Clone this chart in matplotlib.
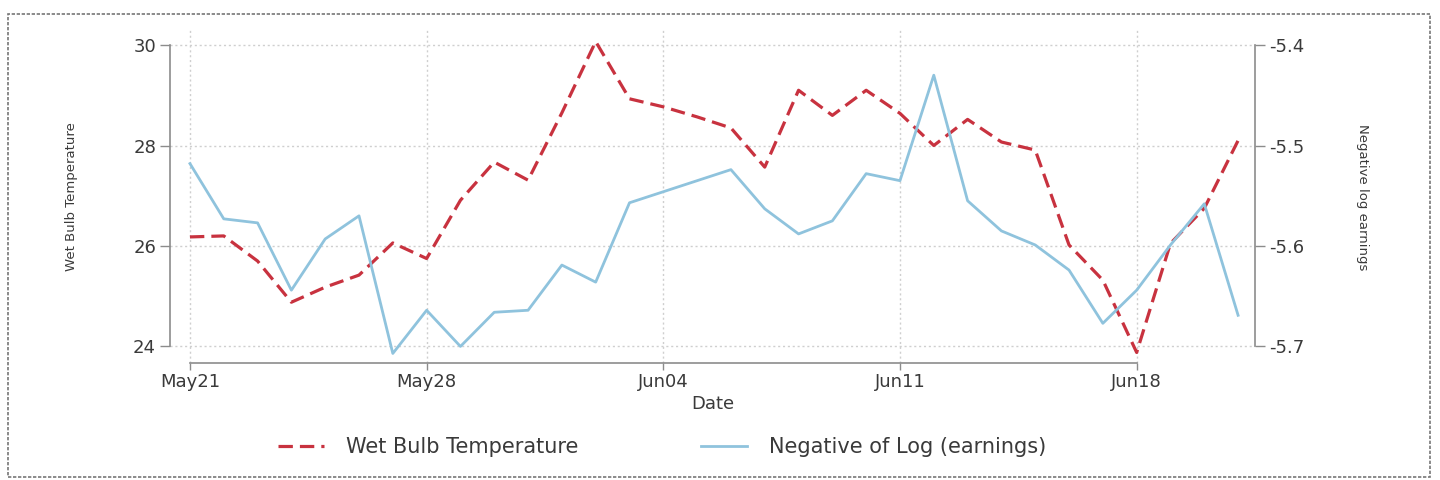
import matplotlib
matplotlib.use("Agg")
import matplotlib.pyplot as plt
import matplotlib.dates as mdates
from matplotlib.patches import Rectangle
import pandas as pd

# daily series, May21 - Jun21
dates = pd.date_range("2019-05-21", periods=32, freq="D")

wet_bulb = [26.18, 26.20, 25.70, 24.88, 25.18, 25.42, 26.06, 25.75,
            26.91, 27.67, 27.31, 28.65, 30.07, 28.93, 28.77, 28.57,
            28.35, 27.57, 29.10, 28.60, 29.10, 28.64, 28.00, 28.52,
            28.07, 27.91, 26.02, 25.32, 23.88, 26.05, 26.75, 28.10]

neg_log_earn = [-5.518, -5.573, -5.577, -5.644, -5.593, -5.570, -5.707, -5.664,
                -5.700, -5.666, -5.664, -5.619, -5.636, -5.557, -5.546, -5.535,
                -5.524, -5.563, -5.588, -5.575, -5.528, -5.535, -5.430, -5.555,
                -5.585, -5.599, -5.624, -5.677, -5.644, -5.599, -5.558, -5.669]

tick_dates = pd.to_datetime(["2019-05-21", "2019-05-28", "2019-06-04",
                             "2019-06-11", "2019-06-18"])
left_ticks = [24, 26, 28, 30]
right_ticks = [-5.7, -5.6, -5.5, -5.4]

RED = "#c8323f"
BLUE = "#8fc3dd"
GREY = "#8c8c8c"
TXT = "#3a3a3a"

plt.rcParams["font.family"] = ["DejaVu Sans"]

fig = plt.figure(figsize=(14.4, 4.8), dpi=100)
W, H = 1440, 480
ax = fig.add_axes([170 / W, 1 - 363 / H, 1085 / W, 333 / H])
ax2 = ax.twinx()

# outer dotted frame
fig.patches.append(Rectangle((8 / W, 1 - 477 / H), 1422 / W, 463 / H,
                             transform=fig.transFigure, fill=False,
                             edgecolor="#777777", linestyle=(0, (2, 1)), lw=1.2))

l1, = ax.plot(dates, wet_bulb, color=RED, lw=2.3, linestyle=(0, (4.5, 2.2)),
              label="Wet Bulb Temperature", zorder=3)
l2, = ax2.plot(dates, neg_log_earn, color=BLUE, lw=2.0,
               label="Negative of Log (earnings)", zorder=3)

d0 = mdates.date2num(dates[0])
d1 = mdates.date2num(dates[-1])
ax.set_xlim(d0 - 0.59, d1 + 0.5)
ax.set_ylim(23.67, 30.3)
ax2.set_ylim(-5.7 + (23.67 - 24) / 20, -5.7 + (30.3 - 24) / 20)

ax.set_xticks(tick_dates)
ax.xaxis.set_major_formatter(mdates.DateFormatter("%b%d"))
ax.set_yticks(left_ticks)
ax2.set_yticks(right_ticks)
ax2.set_yticklabels([f"{v:.1f}" for v in right_ticks])

for a in (ax, ax2):
    for s in a.spines.values():
        s.set_visible(False)
ax.spines["left"].set_visible(True)
ax.spines["left"].set_bounds(24, 30)
ax.spines["bottom"].set_visible(True)
ax.spines["bottom"].set_bounds(mdates.date2num(tick_dates[0]), mdates.date2num(tick_dates[-1]))
ax2.spines["right"].set_visible(True)
ax2.spines["right"].set_bounds(-5.7, -5.4)
for s in (ax.spines["left"], ax.spines["bottom"], ax2.spines["right"]):
    s.set_color(GREY)
    s.set_linewidth(1.2)

ax.tick_params(axis="y", length=7, width=1, color=GREY, labelsize=13, labelcolor=TXT, pad=3)
ax.tick_params(axis="x", length=5, width=1, color=GREY, labelsize=13, labelcolor=TXT, pad=2)
ax2.tick_params(axis="y", length=7, width=1, color=GREY, labelsize=13, labelcolor=TXT, pad=3)

ax.grid(True, color="#cfcfcf", linestyle=(0, (1.5, 2)), lw=1)
ax.set_axisbelow(True)

ax.set_xlabel("Date", fontsize=13, color=TXT, labelpad=3)
fig.text(72 / W, 1 - 197 / H, "Wet Bulb Temperature", rotation=90,
         ha="center", va="center", fontsize=9.5, color=TXT)
fig.text(1362 / W, 1 - 197 / H, "Negative log earnings", rotation=270,
         ha="center", va="center", fontsize=9.5, color=TXT)

leg = fig.legend([l1, l2], [l1.get_label(), l2.get_label()], ncol=2,
                 loc="center left", bbox_to_anchor=(278 / W, 1 - 447 / H),
                 frameon=False, fontsize=15, handlelength=2.2,
                 columnspacing=5.9, handletextpad=1.05, borderpad=0,
                 borderaxespad=0)
for t in leg.get_texts():
    t.set_color(TXT)

fig.savefig("out.png", dpi=100)
